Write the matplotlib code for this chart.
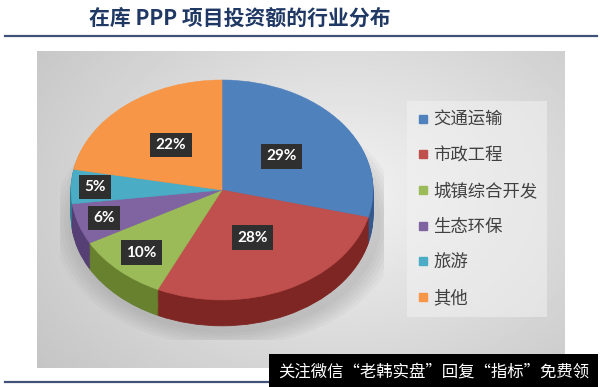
import numpy as np
import matplotlib.pyplot as plt
from matplotlib.lines import Line2D
from matplotlib.patches import Ellipse

plt.rcParams['font.family'] = ['Noto Sans CJK SC', 'DejaVu Sans']

# =========================================================
# DADOS
# =========================================================
categories = ['交通运输', '市政工程', '城镇综合开发', '生态环保', '旅游', '其他']
shares = [29, 28, 10, 6, 5, 22]
colors = ['#4F81BD', '#C0504D', '#9BBB59', '#8064A2', '#4BACC6', '#F79646']
side_colors = ['#34598C', '#7E2623', '#67812F', '#553F74', '#2D7E95', '#B5651F']
label_r = [0.50, 0.48, 0.78, 0.82, 0.84, 0.53]

title = '在库 PPP 项目投资额的行业分布'
watermark = '关注微信“老韩实盘”回复“指标”免费领'

W, H = 600, 387
fig = plt.figure(figsize=(6, 3.87), dpi=100)
fig.patch.set_facecolor('white')


def px(x0, y0, x1, y1):
    # caixa em pixels -> fracao da figura
    return [x0 / W, 1 - y1 / H, (x1 - x0) / W, (y1 - y0) / H]


# =========================================================
# FUNDO CINZA COM GRADIENTE
# =========================================================
bg = fig.add_axes(px(37, 51, 565, 368))
yy, xx = np.mgrid[0:1:200j, 0:1:300j]
d = np.sqrt(((xx - 0.58) / 0.9) ** 2 + ((yy - 0.45) / 1.1) ** 2)
bg.imshow(0.95 - 0.22 * d, cmap='gray', vmin=0, vmax=1, aspect='auto',
          extent=[0, 1, 0, 1])
bg.axis('off')

# =========================================================
# PIZZA 3D
# =========================================================
ax = fig.add_axes(px(60, 70, 384, 340))
ax.set_facecolor('none')
depth = 0.235

# sombra
for k in range(6):
    ax.add_patch(Ellipse((0.03, -0.30), 2.05 + 0.05 * k, 2.0 + 0.05 * k,
                         color='#707070', alpha=0.05, lw=0))

n = 24
for k in range(n, 0, -1):
    ws, _ = ax.pie(shares, colors=side_colors, startangle=90,
                   counterclock=False, center=(0, -depth * k / n))
    for w in ws:
        w.set_edgecolor(w.get_facecolor())
        w.set_linewidth(0.6)

wedges, _ = ax.pie(shares, colors=colors, startangle=90,
                   counterclock=False)
for w in wedges:
    w.set_edgecolor(w.get_facecolor())
    w.set_linewidth(0.4)

for w, pct, r in zip(wedges, shares, label_r):
    ang = np.deg2rad((w.theta1 + w.theta2) / 2)
    ax.text(r * np.cos(ang), r * np.sin(ang), f'{pct}%',
            ha='center', va='center', color='white', fontsize=11,
            fontweight='bold', family='Lato',
            bbox=dict(boxstyle='square,pad=0.35', fc='#2f2f2f', ec='none'))

ax.set_aspect('auto')
ax.set_xlim(-1.073, 1.073)
ax.set_ylim(-1.364, 1.091)
ax.axis('off')

# =========================================================
# LEGENDA
# =========================================================
handles = [Line2D([], [], marker='s', linestyle='', color=c, markersize=6)
           for c in colors]
leg = fig.legend(handles, categories, loc='center left',
                 bbox_to_anchor=(407 / W, 1 - 209 / H), borderaxespad=0,
                 fontsize=12.5, labelspacing=1.02, handlelength=0.7,
                 handletextpad=0.25, borderpad=0.55, frameon=True,
                 fancybox=False, facecolor='#f2f2f2', edgecolor='none',
                 framealpha=0.55)
for t in leg.get_texts():
    t.set_color('#404040')

# =========================================================
# TITULO E LINHAS
# =========================================================
fig.text(240 / W, 1 - 18 / H, title, ha='center', va='center',
         fontsize=15, fontweight='bold', color='#1F3864')
fig.add_artist(Line2D([5 / W, 597 / W], [1 - 36 / H] * 2,
                      color='#41527A', lw=1.6))
fig.add_artist(Line2D([5 / W, 300 / W], [1 - 382 / H] * 2,
                      color='#41527A', lw=1.6))

# marca d'agua
fig.text(278 / W, 1 - 372 / H, watermark, ha='left', va='center',
         color='white', fontsize=11.8,
         bbox=dict(boxstyle='square,pad=0.55', fc='black', ec='none'))

plt.savefig('out.png', dpi=100)
